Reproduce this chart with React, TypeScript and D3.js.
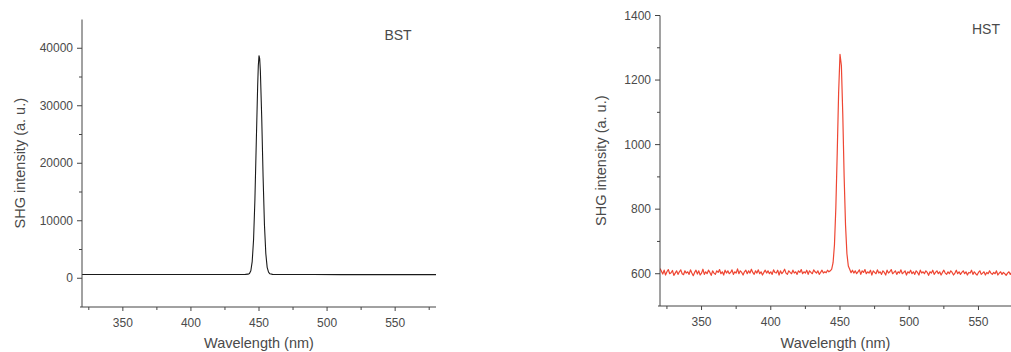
import React from "react";
import * as d3 from "d3";

// ---------- Data ----------
const bstWavelengths = [320, 340, 360, 380, 400, 420, 430, 438, 440, 442, 443, 444, 445, 446, 447, 448, 449, 449.5, 450, 450.5, 451, 452, 453, 454, 455, 456, 457, 458, 460, 462, 470, 490, 510, 530, 550, 570, 580];
const bstIntensity = [650, 648, 646, 645, 644, 645, 648, 655, 668, 712, 820, 1300, 2900, 6700, 13700, 23600, 33300, 37000, 38700, 38200, 36100, 27900, 17700, 9300, 4300, 1900, 1050, 780, 680, 655, 645, 640, 638, 636, 635, 634, 634];

const hstStart = 320;
const hstStep = 1;
const hstIntensity = [
  616, 608, 599, 611, 596, 606, 613, 600, 603, 610, 595, 602, 609, 598, 606, 612, 600, 597, 609, 602,
  606, 598, 612, 602, 594, 604, 611, 599, 609, 596, 602, 614, 598, 606, 600, 611, 604, 595, 609, 602,
  598, 609, 604, 613, 600, 606, 596, 611, 602, 609, 600, 604, 612, 598, 606, 602, 615, 600, 609, 604,
  596, 606, 611, 600, 609, 602, 614, 604, 598, 609, 602, 612, 600, 606, 596, 604, 611, 602, 609, 600,
  606, 598, 612, 604, 602, 611, 596, 609, 600, 606, 614, 602, 598, 609, 604, 600, 611, 602, 606, 598,
  609, 604, 613, 600, 606, 602, 611, 598, 609, 604, 600, 612, 606, 602, 609, 598, 604, 611, 602, 606,
  603, 611, 606, 609, 614, 634, 690, 805, 975, 1160, 1280, 1245, 1095, 900, 750, 662, 624, 614, 603, 611,
  602, 609, 600, 606, 612, 598, 609, 604, 613, 600, 606, 602, 611, 596, 609, 604, 600, 612, 602, 606,
  598, 609, 604, 596, 611, 602, 606, 613, 600, 604, 609, 598, 606, 602, 612, 600, 604, 609, 596, 606,
  602, 611, 600, 606, 598, 609, 604, 596, 611, 602, 606, 600, 609, 604, 595, 606, 602, 611, 598, 604,
  609, 600, 606, 596, 604, 611, 602, 598, 606, 600, 609, 604, 596, 602, 611, 600, 606, 598, 604, 609,
  600, 606, 596, 604, 602, 611, 598, 606, 600, 596, 604, 609, 598, 602, 606, 596, 604, 600, 609, 602,
  598, 604, 600, 609, 596, 602, 606, 598, 604, 600, 595, 602, 606, 598, 604, 600, 596, 602, 598, 604, 600,
];

const xMajorTicks = [350, 400, 450, 500, 550];
const xMinorTicks = [325, 375, 425, 475, 525, 575];
const bstYMajor = [0, 10000, 20000, 30000, 40000];
const bstYMinor = [5000, 15000, 25000, 35000];
const hstYMajor = [600, 800, 1000, 1200, 1400];
const hstYMinor = [700, 900, 1100, 1300];

const FONT = "'Liberation Sans', Arial, Helvetica, sans-serif";
const AXIS = "#444";
const TEXT = "#4a4a4a";

type PanelProps = {
  xRange: [number, number];
  yDomain: [number, number];
  yRange: [number, number];
  xs: number[];
  ys: number[];
  yMajor: number[];
  yMinor: number[];
  color: string;
  width: number;
  label: string;
  labelX: number;
  labelY: number;
  yTitleX: number;
  clipId: string;
};

function Panel(p: PanelProps) {
  const x = d3.scaleLinear().domain([320, 580]).range(p.xRange);
  const y = d3.scaleLinear().domain(p.yDomain).range(p.yRange);
  const line = d3
    .line<number>()
    .x((_, i) => x(p.xs[i]))
    .y((d) => y(d));
  const x0 = p.xRange[0];
  const yb = p.yRange[0];
  const yt = p.yRange[1];
  const midX = (p.xRange[0] + Math.min(p.xRange[1], 1011)) / 2;
  return (
    <g>
      <defs>
        <clipPath id={p.clipId}>
          <rect x={x0} y={yt - 5} width={p.xRange[1] - x0} height={yb - yt + 5} />
        </clipPath>
      </defs>
      <path d={line(p.ys) || ""} fill="none" stroke={p.color} strokeWidth={p.width} clipPath={`url(#${p.clipId})`} strokeLinejoin="round" />
      {/* axes */}
      <line x1={x0} x2={x0} y1={yt} y2={yb} stroke={AXIS} strokeWidth={1} />
      <line x1={x0 - 2} x2={p.xRange[1]} y1={yb} y2={yb} stroke={AXIS} strokeWidth={1} />
      {p.yMajor.map((v) => (
        <g key={"ym" + v}>
          <line x1={x0 - 5} x2={x0} y1={y(v)} y2={y(v)} stroke={AXIS} />
          <text x={x0 - 9} y={y(v)} textAnchor="end" dominantBaseline="central" fontSize={12} fill={TEXT} fontFamily={FONT}>
            {v}
          </text>
        </g>
      ))}
      {p.yMinor.map((v) => (
        <line key={"yn" + v} x1={x0 - 3} x2={x0} y1={y(v)} y2={y(v)} stroke={AXIS} />
      ))}
      {xMajorTicks.map((v) => (
        <g key={"xm" + v}>
          <line x1={x(v)} x2={x(v)} y1={yb} y2={yb + 4} stroke={AXIS} />
          <text x={x(v)} y={yb + 16} textAnchor="middle" dominantBaseline="central" fontSize={12} fill={TEXT} fontFamily={FONT}>
            {v}
          </text>
        </g>
      ))}
      {xMinorTicks.map((v) => (
        <line key={"xn" + v} x1={x(v)} x2={x(v)} y1={yb} y2={yb + 3} stroke={AXIS} />
      ))}
      <text x={midX} y={347.5} textAnchor="middle" fontSize={14.5} fill={TEXT} fontFamily={FONT}>
        Wavelength (nm)
      </text>
      <text
        transform={`translate(${p.yTitleX},${(yt + yb) / 2}) rotate(-90)`}
        textAnchor="middle"
        dominantBaseline="central"
        fontSize={14.5}
        fill={TEXT}
        fontFamily={FONT}
      >
        SHG intensity (a. u.)
      </text>
      <text x={p.labelX} y={p.labelY} textAnchor="middle" dominantBaseline="central" fontSize={14} fill={TEXT} fontFamily={FONT}>
        {p.label}
      </text>
    </g>
  );
}

export default function App() {
  const hstWavelengths = hstIntensity.map((_, i) => hstStart + i * hstStep);
  return (
    <div>
      <style>{"body{margin:0;overflow:hidden}"}</style>
      <svg width={1011} height={352} style={{ display: "block", background: "#fff" }}>
        <Panel
          xRange={[82, 436]}
          yDomain={[-5000, 45000]}
          yRange={[307, 19.5]}
          xs={bstWavelengths}
          ys={bstIntensity}
          yMajor={bstYMajor}
          yMinor={bstYMinor}
          color="#1a1a1a"
          width={1.1}
          label="BST"
          labelX={398}
          labelY={35}
          yTitleX={20}
          clipId="clipL"
        />
        <Panel
          xRange={[660, 1020]}
          yDomain={[500, 1400]}
          yRange={[306, 15.5]}
          xs={hstWavelengths}
          ys={hstIntensity}
          yMajor={hstYMajor}
          yMinor={hstYMinor}
          color="#ee4633"
          width={1.2}
          label="HST"
          labelX={986}
          labelY={29}
          yTitleX={601}
          clipId="clipR"
        />
      </svg>
    </div>
  );
}
